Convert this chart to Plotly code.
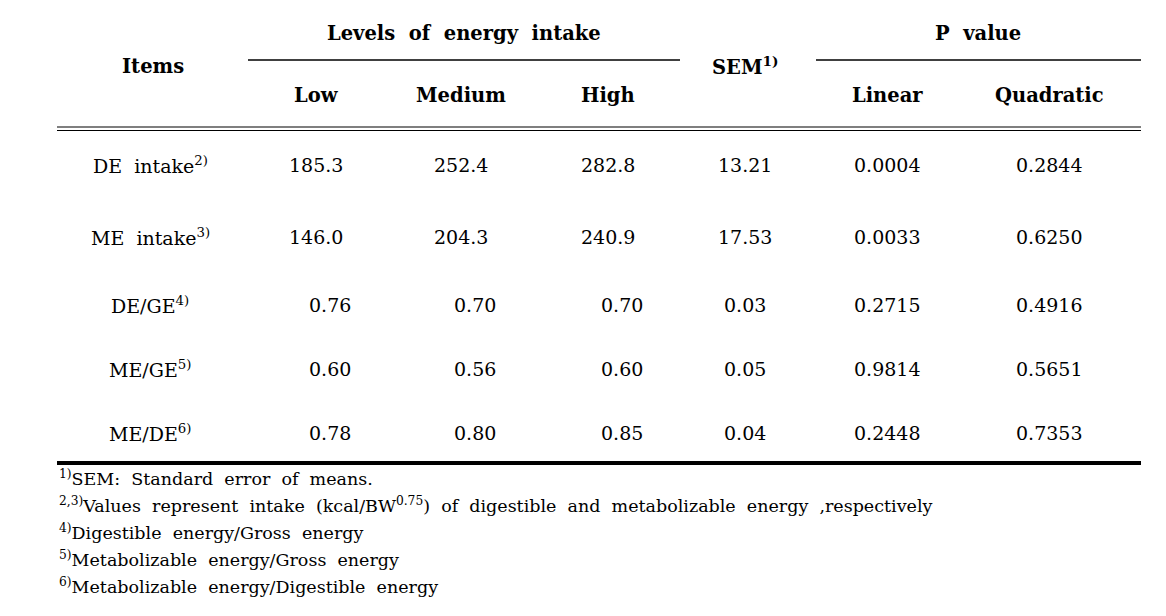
import plotly.graph_objects as go

# ---- data ----
items = ["DE\u00a0\u00a0intake", "ME\u00a0\u00a0intake", "DE/GE", "ME/GE", "ME/DE"]
item_notes = ["2)", "3)", "4)", "5)", "6)"]
decimals = [1, 1, 2, 2, 2]
low = [185.3, 146.0, 0.76, 0.60, 0.78]
medium = [252.4, 204.3, 0.70, 0.56, 0.80]
high = [282.8, 240.9, 0.70, 0.60, 0.85]
sem = [13.21, 17.53, 0.03, 0.05, 0.04]
p_linear = [0.0004, 0.0033, 0.2715, 0.9814, 0.2448]
p_quadratic = [0.2844, 0.6250, 0.4916, 0.5651, 0.7353]
level_labels = ["Low", "Medium", "High"]
p_labels = ["Linear", "Quadratic"]
footnotes = [
    ("1)", "SEM:\u00a0\u00a0Standard\u00a0\u00a0error\u00a0\u00a0of\u00a0\u00a0means."),
    ("2,3)", "Values\u00a0\u00a0represent\u00a0\u00a0intake\u00a0\u00a0(kcal/BW<sup>0.75</sup>)\u00a0\u00a0of\u00a0\u00a0digestible\u00a0\u00a0and\u00a0\u00a0metabolizable\u00a0\u00a0energy\u00a0\u00a0,respectively"),
    ("4)", "Digestible\u00a0\u00a0energy/Gross\u00a0\u00a0energy"),
    ("5)", "Metabolizable\u00a0\u00a0energy/Gross\u00a0\u00a0energy"),
    ("6)", "Metabolizable\u00a0\u00a0energy/Digestible\u00a0\u00a0energy"),
]

# ---- layout ----
W, H = 1166, 616
OFF = 8  # page body margin
FONT = "DejaVu Serif"
x_left, x_right = 57, 1141
x_item = 150
x_levels = [316, 461, 608]
x_sem = 745
x_p = [887, 1049]
row_y = [165, 237, 305, 369, 433]
ratio_shift = 14
foot_y = [478, 505, 532, 559, 586]

fig = go.Figure()
ann = []
def add(x, y, text, size=19, bold=False, xanchor="center"):
    if bold:
        text = "<b>" + text + "</b>"
    ann.append(dict(x=x, y=y, xref="x", yref="y", text=text, showarrow=False,
                    xanchor=xanchor, yanchor="middle",
                    font=dict(family=FONT, size=size, color="black")))

# headers
HS = 19.5
add(153, 66, "Items", HS, True)
add(464, 33, "Levels\u00a0\u00a0of\u00a0\u00a0energy\u00a0\u00a0intake", HS, True)
add(x_sem, 66, "SEM<sup>1)</sup>", HS, True)
add(978, 33, "P\u00a0\u00a0value", HS, True)
for x, t in zip(x_levels, level_labels):
    add(x, 95, t, HS, True)
for x, t in zip(x_p, p_labels):
    add(x, 95, t, HS, True)

# body
for i, y in enumerate(row_y):
    d = decimals[i]
    shift = ratio_shift if d == 2 else 0
    add(x_item, y, items[i] + "<sup>" + item_notes[i] + "</sup>", 19)
    for x, v in zip(x_levels, [low[i], medium[i], high[i]]):
        add(x + shift, y, f"{v:.{d}f}", 19)
    add(x_sem, y, f"{sem[i]:.2f}", 19)
    add(x_p[0], y, f"{p_linear[i]:.4f}", 19)
    add(x_p[1], y, f"{p_quadratic[i]:.4f}", 19)

# footnotes
for (mark, txt), y in zip(footnotes, foot_y):
    add(x_left, y, "<sup>" + mark + "</sup>" + txt, 17.5, xanchor="left")

shapes = []
def hline(x0, x1, y, w):
    shapes.append(dict(type="line", xref="x", yref="y", x0=x0, x1=x1, y0=y, y1=y,
                       line=dict(color="black", width=w)))
hline(x_left, x_right, 4, 4)
hline(248, 680, 60, 1.5)
hline(816, x_right, 60, 1.5)
hline(x_left, x_right, 127, 1.2)
hline(x_left, x_right, 130.5, 1.2)
hline(x_left, x_right, 463, 4)

fig.update_layout(
    width=W - OFF, height=H - OFF, margin=dict(l=0, r=0, t=0, b=0),
    paper_bgcolor="white", plot_bgcolor="white",
    xaxis=dict(range=[OFF, W], visible=False, fixedrange=True),
    yaxis=dict(range=[H, OFF], visible=False, fixedrange=True),
    annotations=ann, shapes=shapes, showlegend=False,
)
fig.write_html("out.html")
